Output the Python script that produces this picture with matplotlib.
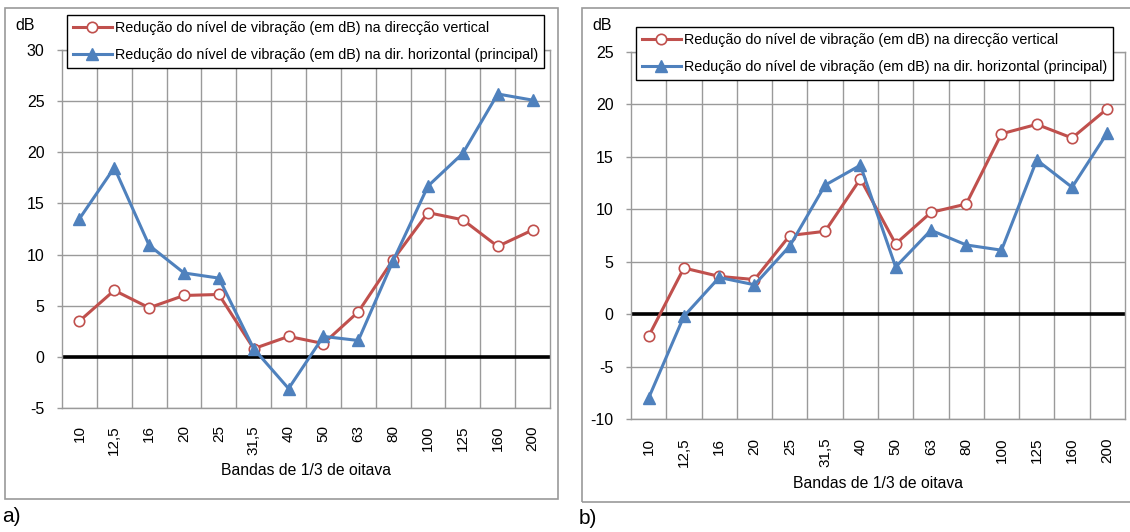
import numpy as np
import matplotlib
matplotlib.use("Agg")
import matplotlib.pyplot as plt
from matplotlib.patches import Rectangle

plt.rcParams['font.family'] = ['Liberation Sans', 'DejaVu Sans']
plt.rcParams['axes.unicode_minus'] = False

bands = ["10", "12,5", "16", "20", "25", "31,5", "40", "50", "63", "80", "100", "125", "160", "200"]

a_vertical = [3.5, 6.5, 4.8, 6.0, 6.1, 0.8, 2.0, 1.3, 4.4, 9.5, 14.1, 13.4, 10.8, 12.4]
a_horizontal = [13.5, 18.5, 10.9, 8.2, 7.7, 0.8, -3.1, 2.0, 1.6, 9.4, 16.7, 19.9, 25.7, 25.1]

b_vertical = [-2.1, 4.4, 3.6, 3.3, 7.5, 7.9, 12.9, 6.7, 9.7, 10.5, 17.2, 18.1, 16.8, 19.6]
b_horizontal = [-8.0, -0.2, 3.5, 2.8, 6.5, 12.3, 14.2, 4.5, 8.0, 6.6, 6.1, 14.7, 12.1, 17.3]

label_v = "Redução do nível de vibração (em dB) na direcção vertical"
label_h = "Redução do nível de vibração (em dB) na dir. horizontal (principal)"
xlabel = "Bandas de 1/3 de oitava"

RED = "#C0504D"
BLUE = "#4F81BD"
GRID = "#9A9A9A"

W, H = 1130, 532
fig = plt.figure(figsize=(W / 100, H / 100), dpi=100)


def fx(px):
    return px / W


def fy(py):
    return 1 - py / H


def make_panel(rect, vert, horiz, ylim, frame, legend_xy, db_xy, tag_xy, tag, xpad):
    l, t, r, b = rect
    ax = fig.add_axes([fx(l), fy(b), fx(r - l), fy(t) - fy(b)])
    x = np.arange(len(bands))
    ax.set_xlim(-0.5, len(bands) - 0.5)
    ax.set_ylim(*ylim)
    ax.set_yticks(np.arange(ylim[0], ylim[1] + 1, 5))
    ax.set_xticks(x)
    ax.set_xticklabels(bands, rotation=90, fontsize=11)
    ax.set_xticks(np.arange(0.5, len(bands) - 1, 1), minor=True)
    ax.tick_params(axis='x', which='both', length=0, pad=xpad)
    ax.tick_params(axis='y', length=3.5, width=1, color=GRID, labelsize=11.5, pad=9)
    ax.grid(True, axis='y', which='major', color=GRID, lw=1)
    ax.grid(True, axis='x', which='minor', color=GRID, lw=1)
    ax.set_axisbelow(True)
    for s in ax.spines.values():
        s.set_color(GRID)
        s.set_linewidth(1)
    ax.axhline(0, color='black', lw=2.6, zorder=1.5)
    l1, = ax.plot(x, vert, color=RED, lw=2.2, marker='o', ms=7.5, mfc='white',
                  mec=RED, mew=1.2, zorder=3)
    l2, = ax.plot(x, horiz, color=BLUE, lw=2.2, marker='^', ms=8, mfc=BLUE,
                  mec=BLUE, zorder=3)
    ax.set_xlabel(xlabel, fontsize=11.3, labelpad=6)
    leg = fig.legend([l1, l2], [label_v, label_h], loc='upper left',
                     bbox_to_anchor=(fx(legend_xy[0]), fy(legend_xy[1])),
                     fontsize=10.4, frameon=True, fancybox=False, edgecolor='black',
                     framealpha=1, handlelength=2.7, handletextpad=0.2,
                     labelspacing=0.9, borderpad=0.4, borderaxespad=0)
    leg.get_frame().set_linewidth(1.0)
    fig.text(fx(db_xy[0]), fy(db_xy[1]), "dB", fontsize=11.5, ha='center', va='center')
    fig.text(fx(tag_xy[0]), fy(tag_xy[1]), tag, fontsize=15, ha='left', va='center')
    fl, ft, fr, fb = frame
    fig.patches.append(Rectangle((fx(fl), fy(fb)), fx(fr - fl), fy(ft) - fy(fb),
                                 transform=fig.transFigure, fill=False,
                                 edgecolor=GRID, lw=1.2, zorder=0))
    return ax


make_panel((62, 50, 550, 408), a_vertical, a_horizontal, (-5, 30),
           (5, 8, 558, 499), (67, 15), (25, 25), (2, 517), "a)", 12.5)
make_panel((631, 52, 1125, 419), b_vertical, b_horizontal, (-10, 25),
           (582, 8, 1134, 502), (636, 27), (602, 25), (579, 518), "b)", 13.5)

fig.savefig("out.png", dpi=100)
